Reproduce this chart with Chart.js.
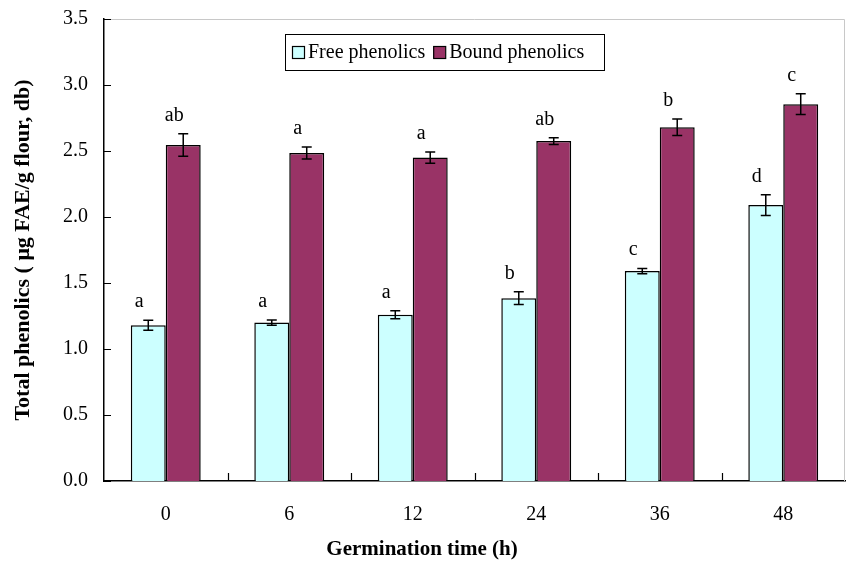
<!DOCTYPE html>
<html>
<head>
<meta charset="utf-8">
<script src="https://cdn.jsdelivr.net/npm/chart.js@4"></script>
<style>
  body { margin: 0; background: #fff; }
  #wrap { width: 846px; height: 563px; }
</style>
</head>
<body>
<div id="wrap"><canvas id="phenolicsChart"></canvas></div>
<script>
// valeurs
var categories = ['0', '6', '12', '24', '36', '48'];
var freeValues = [1.18, 1.20, 1.26, 1.385, 1.59, 2.09];
var freeErrors = [0.038, 0.02, 0.03, 0.048, 0.02, 0.078];
var freeLetters = ['a', 'a', 'a', 'b', 'c', 'd'];
var boundValues = [2.545, 2.485, 2.45, 2.575, 2.68, 2.855];
var boundErrors = [0.085, 0.045, 0.042, 0.025, 0.062, 0.078];
var boundLetters = ['ab', 'a', 'a', 'ab', 'b', 'c'];
var yTicks = [0, 0.5, 1.0, 1.5, 2.0, 2.5, 3.0, 3.5];

var serif = '"Liberation Serif", "Times New Roman", serif';
var errors = [freeErrors, boundErrors];
var letters = [freeLetters, boundLetters];

// barres d'erreur, lettres, graduations internes, cadre et légende
var decorPlugin = {
    id: 'decor',
    afterDatasetsDraw: function (chart) {
        var ctx = chart.ctx;
        var y = chart.scales.y;
        ctx.save();
        ctx.strokeStyle = '#000';
        ctx.fillStyle = '#000';
        ctx.lineWidth = 1.5;
        ctx.font = '20px ' + serif;
        ctx.textAlign = 'center';
        ctx.textBaseline = 'alphabetic';
        chart.data.datasets.forEach(function (ds, d) {
            var meta = chart.getDatasetMeta(d);
            meta.data.forEach(function (bar, i) {
                var v = ds.data[i];
                var e = errors[d][i];
                var top = y.getPixelForValue(v + e);
                var bot = y.getPixelForValue(v - e);
                ctx.beginPath();
                ctx.moveTo(bar.x, top);
                ctx.lineTo(bar.x, bot);
                ctx.moveTo(bar.x - 5, top);
                ctx.lineTo(bar.x + 5, top);
                ctx.moveTo(bar.x - 5, bot);
                ctx.lineTo(bar.x + 5, bot);
                ctx.stroke();
                ctx.fillText(letters[d][i], bar.x - 9, top - 13);
            });
        });
        ctx.restore();
    },
    afterDraw: function (chart) {
        var ctx = chart.ctx;
        var area = chart.chartArea;
        var x = chart.scales.x;
        var y = chart.scales.y;
        ctx.save();
        // cadre haut et droit, gris clair
        ctx.strokeStyle = '#c8c8c8';
        ctx.lineWidth = 1;
        ctx.beginPath();
        ctx.moveTo(area.left, area.top + 0.5);
        ctx.lineTo(area.right - 0.5, area.top + 0.5);
        ctx.lineTo(area.right - 0.5, area.bottom);
        ctx.stroke();
        // graduations vers l'intérieur
        ctx.strokeStyle = '#000';
        ctx.lineWidth = 1.2;
        ctx.beginPath();
        yTicks.forEach(function (t) {
            var py = Math.round(y.getPixelForValue(t)) + 0.5;
            ctx.moveTo(area.left, py);
            ctx.lineTo(area.left + 7, py);
        });
        for (var i = 1; i < categories.length; i++) {
            var px = Math.round((x.getPixelForValue(i - 1) + x.getPixelForValue(i)) / 2) + 0.5;
            ctx.moveTo(px, area.bottom);
            ctx.lineTo(px, area.bottom - 8);
        }
        ctx.stroke();
        // titres des axes
        ctx.fillStyle = '#000';
        ctx.font = 'bold 21px ' + serif;
        ctx.textAlign = 'center';
        ctx.textBaseline = 'alphabetic';
        ctx.fillText('Germination time (h)', 422, 555);
        ctx.font = 'bold 22px ' + serif;
        ctx.translate(29, (area.top + area.bottom) / 2);
        ctx.rotate(-Math.PI / 2);
        ctx.fillText('Total phenolics ( \u03bcg FAE/g flour, db)', 0, 0);
        ctx.setTransform(1, 0, 0, 1, 0, 0);
        // légende
        ctx.font = '20px ' + serif;
        var boxL = 285, boxT = 34, boxW = 319, boxH = 36;
        ctx.fillStyle = '#fff';
        ctx.fillRect(boxL, boxT, boxW, boxH);
        ctx.strokeStyle = '#000';
        ctx.lineWidth = 1;
        ctx.strokeRect(boxL + 0.5, boxT + 0.5, boxW, boxH);
        var cx = boxL + 7;
        var cy = boxT + boxH / 2;
        ctx.textAlign = 'left';
        ctx.textBaseline = 'middle';
        chart.data.datasets.forEach(function (ds) {
            ctx.fillStyle = ds.backgroundColor;
            ctx.fillRect(cx, cy - 6, 12, 12);
            ctx.strokeStyle = '#000';
            ctx.lineWidth = 1.2;
            ctx.strokeRect(cx + 0.5, cy - 5.5, 12, 12);
            ctx.fillStyle = '#000';
            ctx.fillText(ds.label, cx + 16, cy + 1);
            cx += 16 + ctx.measureText(ds.label).width + 8;
        });
        ctx.restore();
    }
};

var ctx = document.getElementById('phenolicsChart').getContext('2d');
var phenolicsChart = new Chart(ctx, {
    type: 'bar',
    data: {
        labels: categories,
        datasets: [{
            label: 'Free phenolics',
            data: freeValues,
            backgroundColor: '#ccffff',
            borderColor: '#000',
            borderWidth: 1.5,
            borderSkipped: 'bottom'
        },
        {
            label: 'Bound phenolics',
            data: boundValues,
            backgroundColor: '#993366',
            borderColor: '#000',
            borderWidth: 1.5,
            borderSkipped: 'bottom'
        }]
    },
    options: {
        responsive: true,
        maintainAspectRatio: false,
        animation: false,
        categoryPercentage: 0.566,
        barPercentage: 1.0,
        layout: { autoPadding: false, padding: { top: 19, right: 1, left: 0, bottom: 0 } },
        plugins: {
            legend: { display: false },
            tooltip: { enabled: false }
        },
        scales: {
            x: {
                grid: { display: false, drawTicks: false },
                border: { display: true, color: '#000', width: 1.5 },
                ticks: { color: '#000', font: { family: serif, size: 20 }, padding: 22 },
                afterFit: function (scale) {
                    scale.height = 82;
                    scale.paddingLeft = 0;
                    scale.paddingRight = 0;
                }
            },
            y: {
                min: 0,
                max: 3.5,
                afterBuildTicks: function (scale) {
                    scale.ticks = yTicks.map(function (t) { return { value: t }; });
                },
                grid: { display: false, drawTicks: false },
                border: { display: true, color: '#000', width: 1.5 },
                ticks: {
                    color: '#000',
                    font: { family: serif, size: 20 },
                    padding: 16,
                    callback: function (v) { return Number(v).toFixed(1); }
                },
                afterFit: function (scale) {
                    scale.width = 104;
                    scale.paddingTop = 0;
                    scale.paddingBottom = 0;
                }
            }
        }
    },
    plugins: [decorPlugin]
});
</script>
</body>
</html>
